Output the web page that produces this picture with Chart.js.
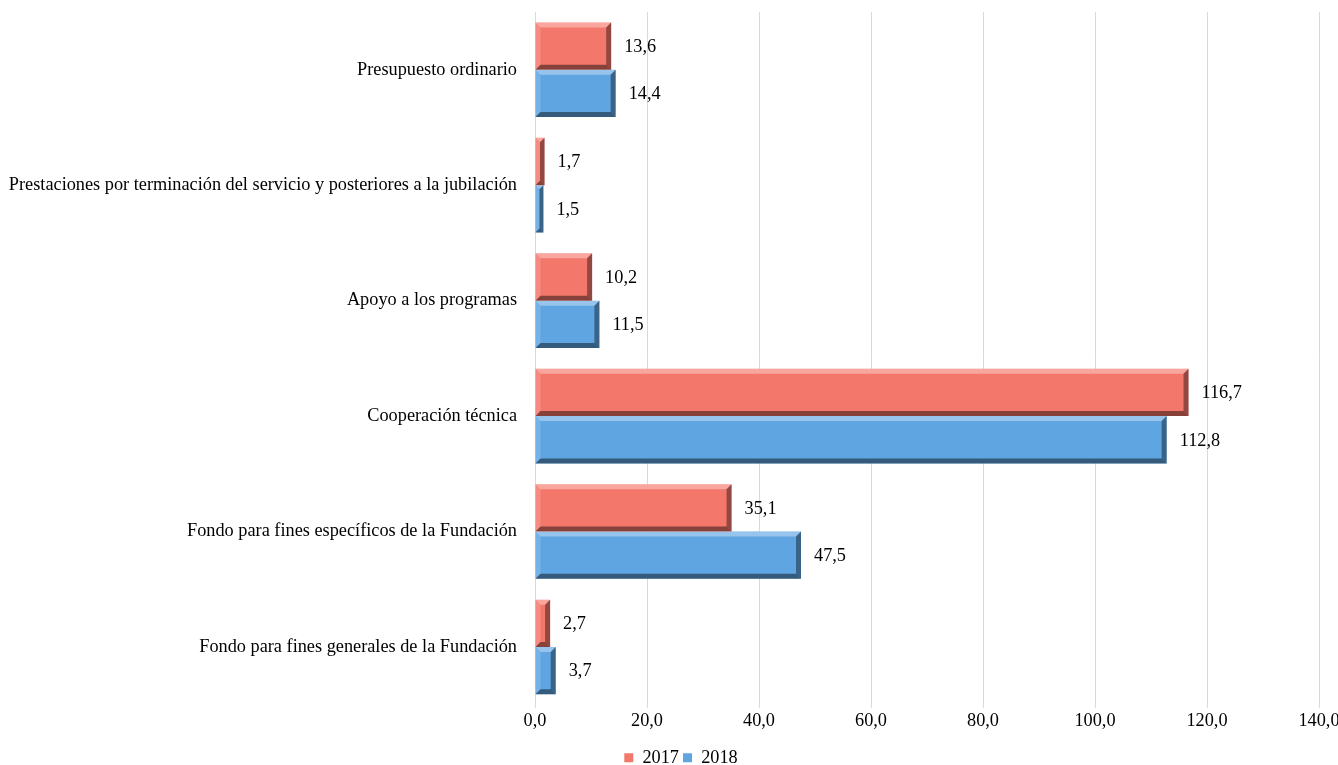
<!DOCTYPE html>
<html>
<head>
<meta charset="utf-8">
<script src="https://cdn.jsdelivr.net/npm/chart.js@4/dist/chart.umd.min.js"></script>
<style>
  html, body { margin: 0; padding: 0; background: #ffffff; }
  #wrap { width: 1338px; height: 765px; }
</style>
</head>
<body>
<div id="wrap"><canvas id="c" width="1338" height="765"></canvas></div>
<script>
const categories = [
  'Presupuesto ordinario',
  'Prestaciones por terminación del servicio y posteriores a la jubilación',
  'Apoyo a los programas',
  'Cooperación técnica',
  'Fondo para fines específicos de la Fundación',
  'Fondo para fines generales de la Fundación'
];
const values2017 = [13.6, 1.7, 10.2, 116.7, 35.1, 2.7];
const values2018 = [14.4, 1.5, 11.5, 112.8, 47.5, 3.7];
const seriesNames = ['2017', '2018'];
const axisMin = 0;
const axisMax = 140;
const axisStep = 20;

const fmt = v => v.toFixed(1).replace('.', ',');
const FONT = "'Liberation Serif', 'Times New Roman', serif";
const FSIZE = 18.3;

// Beveled edges on each bar, drawn over the flat fill
const bevelPlugin = {
  id: 'bevel',
  afterDatasetsDraw(chart) {
    const ctx = chart.ctx;
    chart.data.datasets.forEach((ds, di) => {
      const meta = chart.getDatasetMeta(di);
      meta.data.forEach(bar => {
        const l = Math.min(bar.base, bar.x), r = Math.max(bar.base, bar.x);
        const t = bar.y - bar.height / 2, b = bar.y + bar.height / 2;
        const w = r - l, h = b - t;
        const s = Math.min(5, w / 2, h / 2);
        ctx.save();
        ctx.fillStyle = 'rgba(255,255,255,0.35)';
        ctx.beginPath();
        ctx.moveTo(l, t); ctx.lineTo(r, t); ctx.lineTo(r - s, t + s); ctx.lineTo(l + s, t + s); ctx.closePath(); ctx.fill();
        ctx.fillStyle = 'rgba(255,255,255,0.15)';
        ctx.beginPath();
        ctx.moveTo(l, t); ctx.lineTo(l + s, t + s); ctx.lineTo(l + s, b - s); ctx.lineTo(l, b); ctx.closePath(); ctx.fill();
        ctx.fillStyle = 'rgba(0,0,0,0.45)';
        ctx.beginPath();
        ctx.moveTo(l, b); ctx.lineTo(l + s, b - s); ctx.lineTo(r - s, b - s); ctx.lineTo(r, b); ctx.closePath(); ctx.fill();
        ctx.fillStyle = 'rgba(0,0,0,0.4)';
        ctx.beginPath();
        ctx.moveTo(r, t); ctx.lineTo(r, b); ctx.lineTo(r - s, b - s); ctx.lineTo(r - s, t + s); ctx.closePath(); ctx.fill();
        ctx.restore();
      });
    });
  }
};

// Value labels to the right of each bar
const valueLabels = {
  id: 'valueLabels',
  afterDatasetsDraw(chart) {
    const ctx = chart.ctx;
    ctx.save();
    ctx.font = FSIZE + 'px ' + FONT;
    ctx.fillStyle = '#000000';
    ctx.textAlign = 'left';
    ctx.textBaseline = 'middle';
    chart.data.datasets.forEach((ds, di) => {
      const meta = chart.getDatasetMeta(di);
      meta.data.forEach((bar, i) => {
        ctx.fillText(fmt(ds.data[i]), bar.x + 13, bar.y + 1);
      });
    });
    ctx.restore();
  }
};

// Nudge the legend a little right of the canvas centre
const legendShift = {
  id: 'legendShift',
  afterUpdate(chart) {
    const lg = chart.legend;
    if (lg) { lg.left += 12; lg.right += 12; }
  }
};

new Chart(document.getElementById('c'), {
  type: 'bar',
  data: {
    labels: categories,
    datasets: [
      { label: seriesNames[0], data: values2017, backgroundColor: '#F4776B', borderWidth: 0 },
      { label: seriesNames[1], data: values2018, backgroundColor: '#5FA5E2', borderWidth: 0 }
    ]
  },
  options: {
    indexAxis: 'y',
    responsive: false,
    animation: false,
    layout: { padding: { top: 12, right: 0, left: 0, bottom: -12 } },
    datasets: { bar: { categoryPercentage: 0.82, barPercentage: 1.0 } },
    scales: {
      x: {
        min: axisMin, max: axisMax,
        grid: { color: '#D9D9D9', lineWidth: 1, drawTicks: true, tickLength: 3 },
        border: { display: false },
        ticks: {
          stepSize: axisStep,
          color: '#000000',
          font: { family: FONT, size: FSIZE },
          padding: 3,
          callback: v => fmt(v)
        },
        afterFit(scale) { scale.paddingRight = 19; scale.height = 40; }
      },
      y: {
        grid: { display: false },
        border: { display: false },
        ticks: { color: '#000000', font: { family: FONT, size: FSIZE }, padding: 10 },
        afterFit(scale) { scale.width = 535; scale.paddingTop = 0; scale.paddingBottom = 0; }
      }
    },
    plugins: {
      legend: {
        position: 'bottom',
        labels: {
          color: '#000000',
          font: { family: FONT, size: FSIZE },
          boxWidth: 9, boxHeight: 9, padding: 4
        }
      },
      tooltip: { enabled: false }
    }
  },
  plugins: [bevelPlugin, valueLabels, legendShift]
});
</script>
</body>
</html>
